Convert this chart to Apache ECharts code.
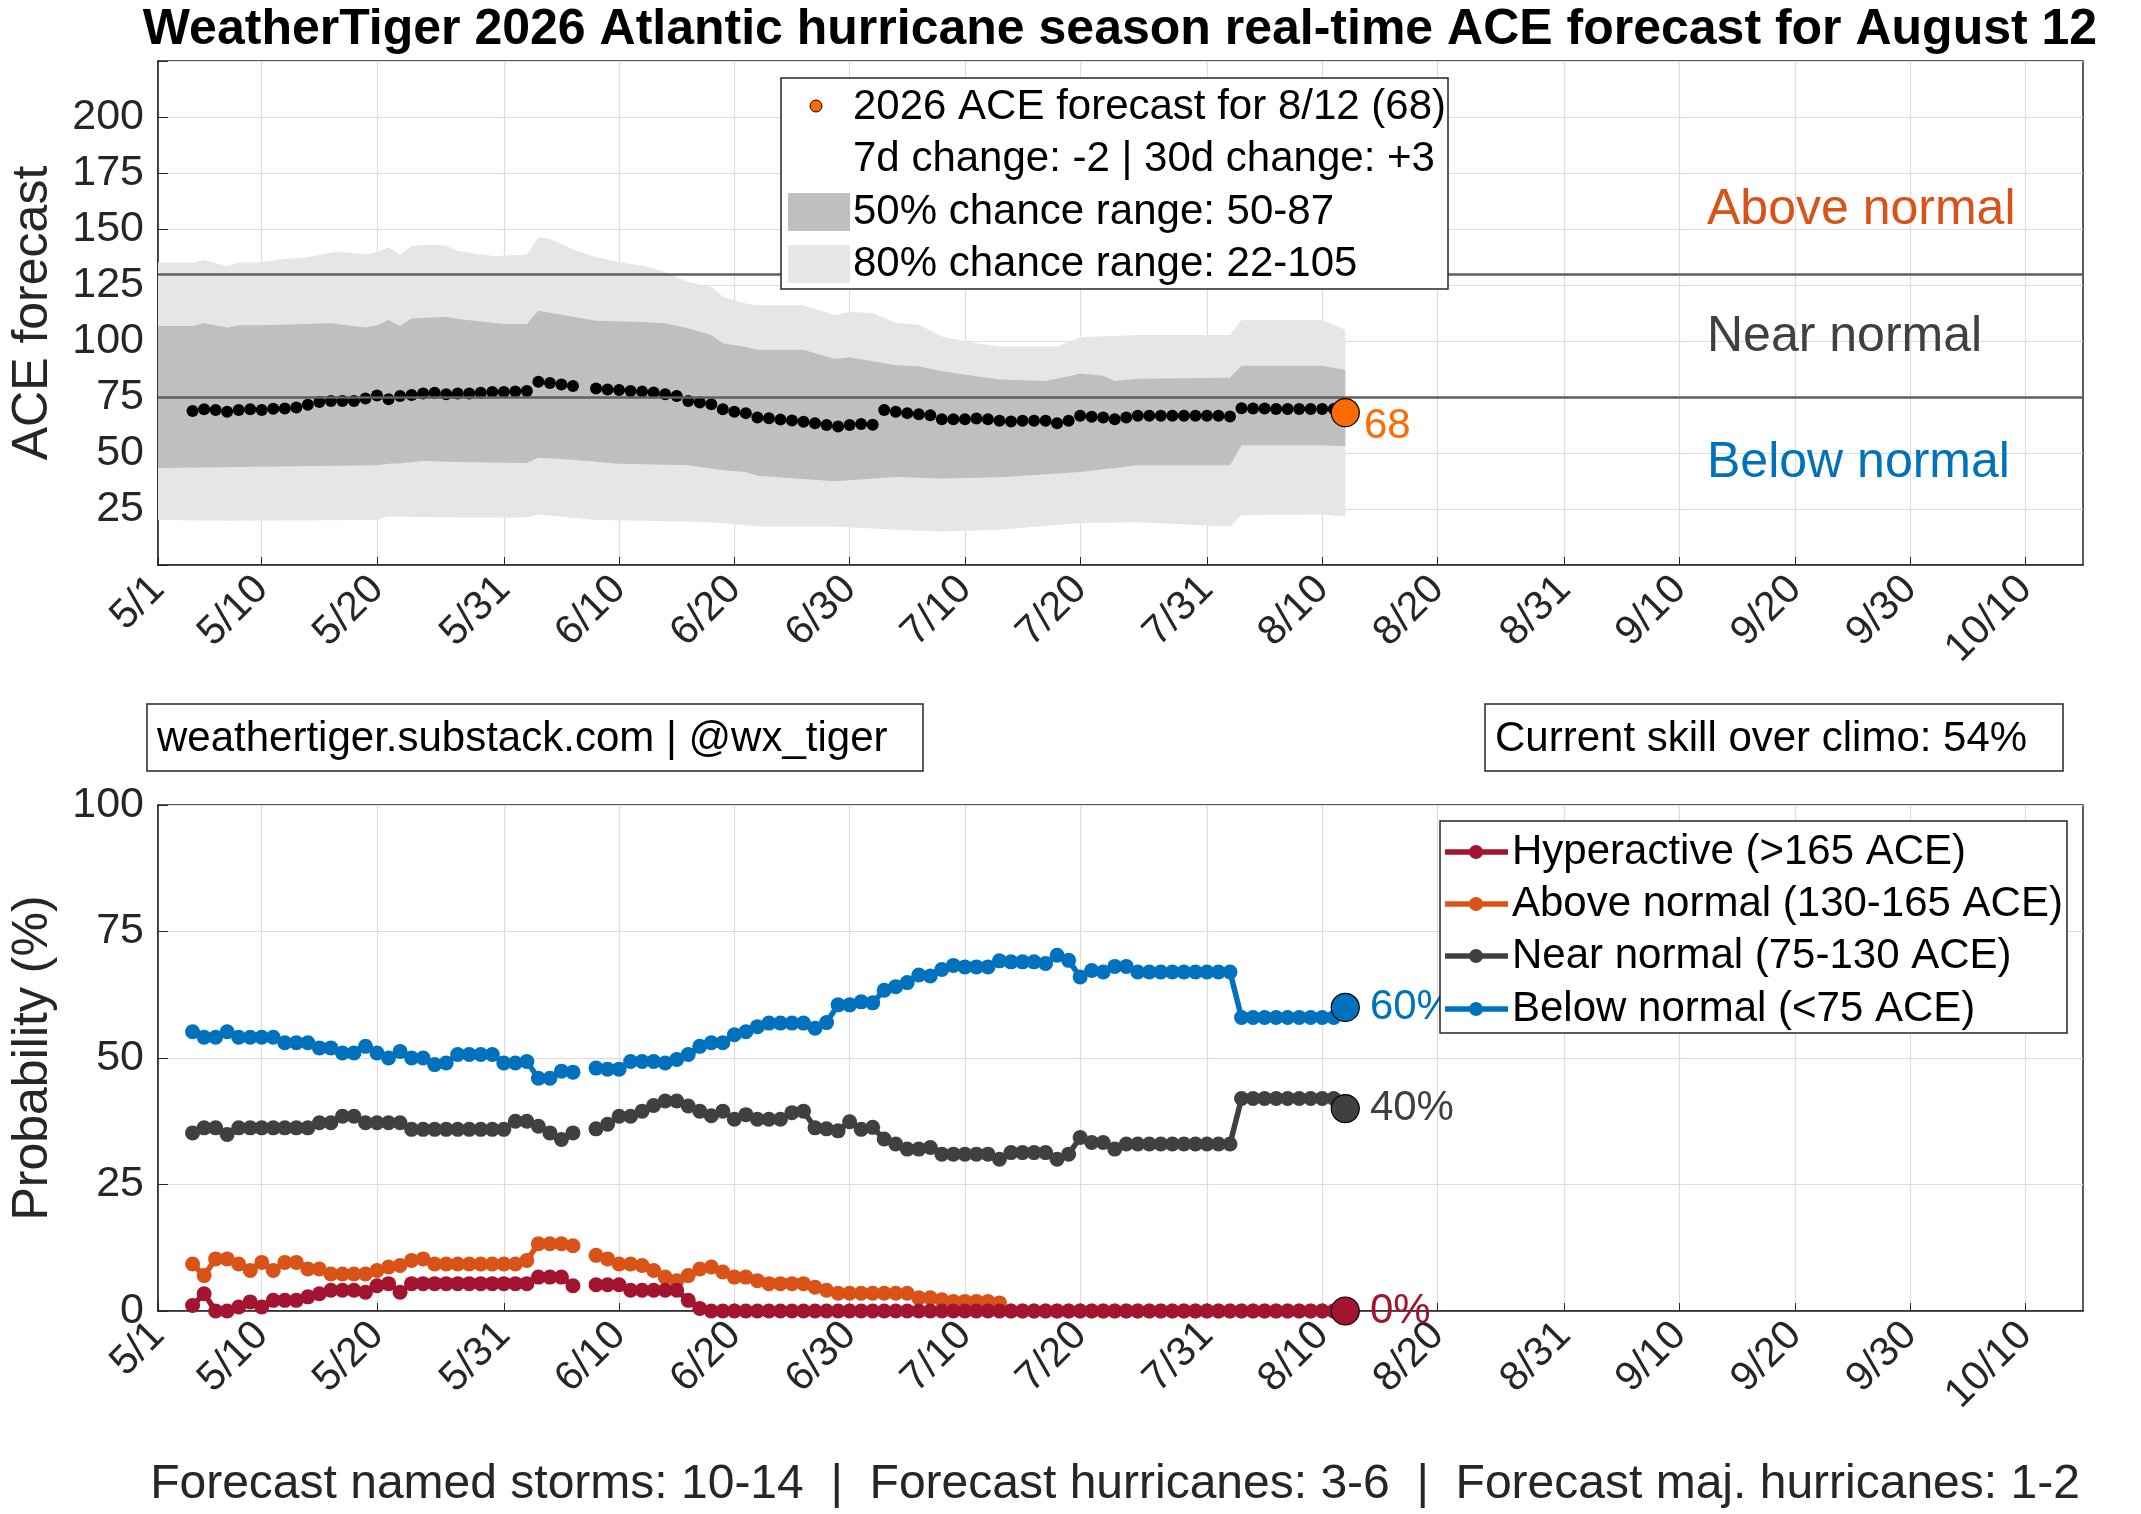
<!DOCTYPE html>
<html><head><meta charset="utf-8">
<script src="https://cdn.jsdelivr.net/npm/echarts@6/dist/echarts.min.js"></script>
<style>html,body{margin:0;padding:0;background:#fff}#c{width:2141px;height:1514px}</style>
</head><body><div id="c"></div>
<script>
// day offsets from May 1, 2026
const firstDay = 3;
const tickDays = [0, 9, 19, 30, 40, 50, 60, 70, 80, 91, 101, 111, 122, 132, 142, 152, 162];
const ace = [68.8,69.5,69.2,68.4,69.2,69.5,69.2,69.8,69.9,70.3,
71.5,72.8,73.2,73.2,73.2,74.3,75.7,74,75.4,75.9,
76.6,76.9,76.2,76.6,76.6,76.9,77.2,77.2,77.5,77.7,
81.8,81.3,80.6,79.9,null,78.8,78.4,78.1,77.7,77.4,
77,76.2,75.4,73.2,72.5,71.8,69.5,68.4,67.8,65.9,
65.5,64.9,64.5,64,63.3,62.5,61.8,62.5,62.9,62.6,
69.2,68.4,67.8,67.3,66.9,65.1,65.1,65.1,65.4,65.1,
64.4,64.1,64.4,64.4,64.4,63.3,64.4,66.6,66.2,65.9,
65.1,65.9,66.6,66.6,66.6,66.6,66.6,66.6,66.6,66.6,
66.3,70,69.9,69.9,69.6,69.6,69.6,69.6,69.6,69.6,
68];
const band80Upper = [[0,134.9],[3,134.9],[4,136.2],[6,133.4],[7,135],[9,135.2],[11,136.6],[13,137.4],[15.6,140],[18,138.6],[19,139.6],[20,141.8],[21,138.4],[22,142.5],[24,143],[25,142.5],[26,140.3],[28,138.6],[29.4,137.8],[32,138.6],[33,146.2],[34,145.5],[36,141],[38,137.4],[40,135.2],[42,133.7],[44,130.8],[46,126.3],[48,124.1],[49,119.7],[51,116.7],[52,116],[56,116],[58.7,111.6],[60,113],[62,112.5],[64,108.2],[66,107.2],[68,102],[71,99],[73,97.6],[78,97.6],[80,101.7],[85,102.7],[93,102.7],[94,109.4],[101,109.4],[103,105]];
const band50Upper = [[0,106.7],[3,106.7],[4,107.9],[6,106],[7,107],[9,107],[15,107.9],[18,106],[19,107],[20,109.4],[21,106.7],[22,110.1],[25,110.8],[26,109.8],[30,107.6],[32,107.6],[33,113.5],[36,110.8],[38,109],[42,108.5],[44,107.9],[46,105.7],[48,102.7],[49,99],[51,97.3],[52,96.1],[56,96.1],[58.7,92],[60,92.8],[64,89.2],[66,88.7],[68,86.5],[73,82.8],[77,82.1],[79,84.3],[80,85.5],[82,84.5],[83,82.1],[85,83.1],[93,83.6],[94,89],[101,89],[103,87]];
const band50Lower = [[0,43.3],[19,44.5],[20,45.2],[21,45.4],[23,46.4],[26,46],[32,45.5],[33,47.9],[36,47],[40,45.2],[46,44.5],[49,42.3],[51,41.5],[52,39.8],[58.7,37.4],[64,39.3],[68,38.6],[73,39.2],[78,40.8],[80,41.5],[85,44.5],[93,44.5],[94,53.5],[101,53.5],[103,53]];
const band80Lower = [[0,20.1],[6,19.8],[19,20.1],[20,21.6],[26,21.2],[32,21.2],[33,22.6],[38,20.1],[46,19.4],[49,18.7],[52,17.2],[58.7,17.2],[64,15.7],[68,15],[73,15.7],[80,18.7],[85,19.1],[93,17.2],[94,22.3],[101,22.5],[103,21.6]];
const probBelow = [55.2,54.1,54.1,55.2,54.1,54.1,54.1,54.1,53,53,
53,52,52,51,51,52.3,51,50,51.3,50,
50,48.7,49,50.7,50.7,50.7,50.7,49,49,49.3,
46,46,47.4,47.2,null,48,47.8,47.8,49.3,49.3,
49.3,49,49.7,50.7,52.3,53,53,54.6,55.2,56.2,
56.9,56.9,56.9,56.9,55.9,57,60.5,60.5,61.1,60.9,
63.4,64.1,64.9,66.4,66.2,67.5,68.3,68,68,68,
69.2,69,69,69,68.7,70.3,69.3,66,67.3,67,
68.1,68.1,67,67,67,67,67,67,67,67,
67,58,58,58,58,58,58,58,58,58,
60];
const probNear = [35.2,36.2,36.2,34.9,36.2,36.2,36.2,36.2,36.2,36.2,
36.2,37.2,37.2,38.5,38.5,37.2,37.2,37.2,37.2,35.9,
35.9,35.9,35.9,35.9,35.9,35.9,35.9,35.9,37.5,37.5,
36.5,35.2,33.9,35.2,null,36,36.9,38.5,38.5,39.5,
40.6,41.5,41.5,40.5,39.5,38.6,39.5,37.9,38.8,37.9,
37.9,37.9,39.2,39.5,36.2,36,35.6,37.4,35.9,36.3,
34,33,32,32,32.3,31,31,31,31,31,
30,31.3,31.3,31.3,31.3,30,31,34.3,33.3,33.3,
32,33,33,33,33,33,33,33,33,33,
33,42,42,42,42,42,42,42,42,42,
40];
const probAbove = [9.3,7,10.3,10.3,9.3,8,9.6,8,9.6,9.6,
8.3,8.3,7.3,7.3,7.3,7.3,8,8.7,9,10,
10.3,9.3,9.3,9.3,9.3,9.3,9.3,9.3,9.3,10,
13.3,13.3,13.3,12.9,null,11,10.3,9.3,9.3,9,
8,6.7,6,7,8.3,8.7,7.7,6.7,6.7,6,
5.4,5.4,5.4,5.4,4.7,4.1,3.5,3.5,3.5,3.5,
3.5,3.5,3.5,2.6,2.6,2.2,1.9,1.9,1.9,1.9,
1.6,0,0,0,0,0,0,0,0,0,
0,0,0,0,0,0,0,0,0,0,
0,0,0,0,0,0,0,0,0,0,
0];
const probHyper = [1.1,3.4,0,0,0.8,1.8,0.8,2.1,2.1,2.1,
2.8,3.4,4.1,4.1,4.1,3.7,5,5.4,3.7,5.4,
5.4,5.4,5.4,5.4,5.4,5.4,5.4,5.4,5.4,5.4,
6.7,6.7,6.7,5,null,5.2,5.2,5.2,4.1,4.1,
4.1,4.1,4.1,2.1,0.5,0,0,0,0,0,
0,0,0,0,0,0,0,0,0,0,
0,0,0,0,0,0,0,0,0,0,
0,0,0,0,0,0,0,0,0,0,
0,0,0,0,0,0,0,0,0,0,
0,0,0,0,0,0,0,0,0,0,
0];
const topRefLines = [130, 75];

const C = {hyper:'#a2142f', above:'#d95319', near:'#404040', below:'#0072bd'};
const FONT = 'Liberation Sans, Arial, sans-serif';
const pairs = arr => arr.map((v,i)=>[firstDay+i, v]);
const last = arr => [[firstDay+arr.length-1, arr[arr.length-1]]];
const dayLabel = d => { const dt=new Date(Date.UTC(2026,4,1)+Math.round(d)*864e5); return (dt.getUTCMonth()+1)+'/'+dt.getUTCDate(); };

const xAxisBase = gi => ({
  type:'value', gridIndex:gi, min:0, max:167,
  axisLine:{show:true, lineStyle:{color:'#262626', width:1.5}},
  axisTick:{show:true, inside:true, length:8, customValues:tickDays, lineStyle:{color:'#262626'}},
  axisLabel:{customValues:tickDays, formatter:dayLabel, rotate:45, fontSize:41, color:'#262626', fontFamily:FONT, margin:18},
  splitLine:{show:true, lineStyle:{color:'#dcdcdc', width:1.2}}
});

function lineSeries(name, arr, color, endLabel, z){
  const s = [{
    type:'line', name, xAxisIndex:1, yAxisIndex:1, data:pairs(arr), connectNulls:false,
    symbol:'circle', symbolSize:15, showAllSymbol:true, itemStyle:{color, opacity:1}, lineStyle:{color, width:5.5}, z
  }];
  if(endLabel) s.push({
    type:'scatter', xAxisIndex:1, yAxisIndex:1, data:last(arr), symbolSize:28,
    itemStyle:{color, borderColor:'#000', borderWidth:1.2, opacity:1}, z:8,
    label:{show:true, position:'right', distance:10, formatter:p=>Math.round(p.value[1])+'%', color, fontSize:42, fontFamily:FONT}
  });
  return s;
}

const chart = echarts.init(document.getElementById('c'));
const option = {
  animation:false,
  backgroundColor:'#fff',
  title:{text:'WeatherTiger 2026 Atlantic hurricane season real-time ACE forecast for August 12', left:1115, textAlign:'center', top:0,
    textStyle:{fontSize:50, fontWeight:'bold', color:'#000', fontFamily:FONT}},
  grid:[
    {left:147, right:58, top:61, height:504, show:true, borderColor:'#262626', borderWidth:1.5, backgroundColor:'transparent'},
    {left:147, right:58, top:805, height:506, show:true, borderColor:'#262626', borderWidth:1.5, backgroundColor:'transparent'}
  ],
  xAxis:[xAxisBase(0), xAxisBase(1)],
  yAxis:[
    {type:'value', gridIndex:0, min:0, max:225, interval:25,
     name:'ACE forecast', nameLocation:'middle', nameGap:100, nameTextStyle:{fontSize:50, color:'#262626', fontFamily:FONT},
     axisLine:{show:true, lineStyle:{color:'#262626', width:1.5}}, axisTick:{inside:true, length:10, lineStyle:{color:'#262626'}},
     axisLabel:{fontSize:43, color:'#262626', fontFamily:FONT, margin:14, formatter:v=>(v===0||v===225)?'':String(v)},
     splitLine:{show:true, lineStyle:{color:'#dcdcdc', width:1.2}}},
    {type:'value', gridIndex:1, min:0, max:100, interval:25,
     name:'Probability (%)', nameLocation:'middle', nameGap:100, nameTextStyle:{fontSize:50, color:'#262626', fontFamily:FONT},
     axisLine:{show:true, lineStyle:{color:'#262626', width:1.5}}, axisTick:{inside:true, length:10, lineStyle:{color:'#262626'}},
     axisLabel:{fontSize:43, color:'#262626', fontFamily:FONT, margin:14},
     splitLine:{show:true, lineStyle:{color:'#dcdcdc', width:1.2}}}
  ],
  series:[
    {type:'custom', xAxisIndex:0, yAxisIndex:0, data:[[0,0]], clip:true, z:1, silent:true,
     renderItem:(params, api)=>{
       const poly=(up,lo,fill)=>({type:'polygon', shape:{points:up.map(p=>api.coord(p)).concat(lo.slice().reverse().map(p=>api.coord(p)))}, style:{fill}});
       return {type:'group', children:[poly(band80Upper,band80Lower,'#e6e6e6'), poly(band50Upper,band50Lower,'#bfbfbf')]};
     }},
    {type:'scatter', xAxisIndex:0, yAxisIndex:0, data:pairs(ace.slice(0,-1)), symbolSize:12, itemStyle:{color:'#000', opacity:1}, z:4,
     markLine:{silent:true, symbol:'none', label:{show:false}, lineStyle:{color:'#5f5f5f', width:2.5, type:'solid'},
       data:topRefLines.map(v=>({yAxis:v}))}},
    {type:'scatter', xAxisIndex:0, yAxisIndex:0, data:last(ace), symbolSize:28,
     itemStyle:{color:'#ff6a00', borderColor:'#000', borderWidth:1.2, opacity:1}, z:6,
     label:{show:true, position:'right', distance:4, offset:[0,14], formatter:p=>String(p.value[1]), color:'#ff6a00', fontSize:42, fontFamily:FONT}},
    ...lineSeries('Above', probAbove, C.above, false, 3),
    ...lineSeries('Hyper', probHyper, C.hyper, false, 4),
    ...lineSeries('Near', probNear, C.near, true, 3),
    ...lineSeries('Below', probBelow, C.below, true, 3),
    {type:'scatter', xAxisIndex:1, yAxisIndex:1, data:last(probHyper), symbolSize:28,
     itemStyle:{color:C.hyper, borderColor:'#000', borderWidth:1.2, opacity:1}, z:8,
     label:{show:true, position:'right', distance:10, formatter:p=>Math.round(p.value[1])+'%', color:C.hyper, fontSize:42, fontFamily:FONT}}
  ],
  graphic:[
    // top legend
    {type:'rect', shape:{x:781,y:78,width:667,height:211}, style:{fill:'#fff', stroke:'#262626', lineWidth:1.5}, z:10},
    {type:'circle', shape:{cx:816,cy:106,r:6}, style:{fill:'#ff6a00', stroke:'#000', lineWidth:1}, z:11},
    {type:'text', x:853, y:107, style:{text:'2026 ACE forecast for 8/12 (68)', fontSize:42, fontFamily:FONT, fill:'#000', verticalAlign:'middle'}, z:11},
    {type:'text', x:853, y:159, style:{text:'7d change: -2 | 30d change: +3', fontSize:42, fontFamily:FONT, fill:'#000', verticalAlign:'middle'}, z:11},
    {type:'rect', shape:{x:788,y:193,width:62,height:38}, style:{fill:'#bfbfbf'}, z:11},
    {type:'text', x:853, y:212, style:{text:'50% chance range: 50-87', fontSize:42, fontFamily:FONT, fill:'#000', verticalAlign:'middle'}, z:11},
    {type:'rect', shape:{x:788,y:245,width:62,height:38}, style:{fill:'#e6e6e6'}, z:11},
    {type:'text', x:853, y:264, style:{text:'80% chance range: 22-105', fontSize:42, fontFamily:FONT, fill:'#000', verticalAlign:'middle'}, z:11},
    // category labels
    {type:'text', x:1707, y:210, style:{text:'Above normal', fontSize:50, fontFamily:FONT, fill:C.above, verticalAlign:'middle'}, z:11},
    {type:'text', x:1707, y:337, style:{text:'Near normal', fontSize:50, fontFamily:FONT, fill:C.near, verticalAlign:'middle'}, z:11},
    {type:'text', x:1707, y:463, style:{text:'Below normal', fontSize:50, fontFamily:FONT, fill:C.below, verticalAlign:'middle'}, z:11},
    // info boxes
    {type:'rect', shape:{x:147,y:704,width:776,height:67}, style:{fill:'#fff', stroke:'#262626', lineWidth:1.5}},
    {type:'text', x:157, y:739, style:{text:'weathertiger.substack.com | @wx_tiger', fontSize:42, fontFamily:FONT, fill:'#000', verticalAlign:'middle'}},
    {type:'rect', shape:{x:1485,y:704,width:578,height:67}, style:{fill:'#fff', stroke:'#262626', lineWidth:1.5}},
    {type:'text', x:1495, y:739, style:{text:'Current skill over climo: 54%', fontSize:42, fontFamily:FONT, fill:'#000', verticalAlign:'middle'}},
    // bottom legend
    {type:'rect', shape:{x:1440,y:821,width:627,height:212}, style:{fill:'#fff', stroke:'#262626', lineWidth:1.5}, z:10},
    ...[['Hyperactive (>165 ACE)',C.hyper,852],['Above normal (130-165 ACE)',C.above,904],['Near normal (75-130 ACE)',C.near,956],['Below normal (<75 ACE)',C.below,1009]].flatMap(([t,c,y])=>[
      {type:'line', shape:{x1:1445,y1:y,x2:1508,y2:y}, style:{stroke:c, lineWidth:5.5}, z:11},
      {type:'circle', shape:{cx:1476,cy:y,r:7}, style:{fill:c}, z:11},
      {type:'text', x:1512, y:y, style:{text:t, fontSize:42, fontFamily:FONT, fill:'#000', verticalAlign:'middle'}, z:11}
    ]),
    // footer
    {type:'text', x:1115, y:1485, style:{text:'Forecast named storms: 10-14  |  Forecast hurricanes: 3-6  |  Forecast maj. hurricanes: 1-2', fontSize:48, fontFamily:FONT, fill:'#262626', align:'center', verticalAlign:'middle'}}
  ]
};
chart.setOption(option);
</script></body></html>
